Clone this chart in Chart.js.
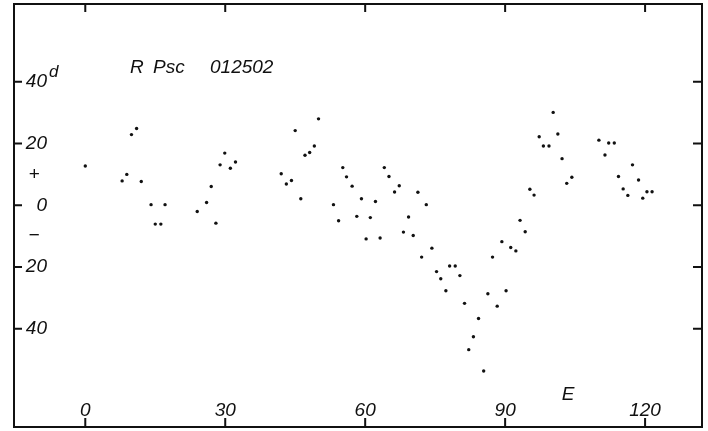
<!DOCTYPE html>
<html>
<head>
<meta charset="utf-8">
<script src="https://cdn.jsdelivr.net/npm/chart.js@4"></script>
<style>
  html, body { margin: 0; padding: 0; background: #fff; }
  #wrap { width: 708px; height: 431px; }
</style>
</head>
<body>
<div id="wrap"><canvas id="oc-chart" width="708" height="431"></canvas></div>
<script>
// O-C diagram of R Psc: epoch E and O-C in days
const epochs = [
  0, 7.9, 8.9, 9.9, 11.0, 12.0, 14.1, 15.0, 16.2, 17.1,
  24.0, 26.0, 27.0, 28.0, 28.9, 29.9, 31.1, 32.2,
  42.0, 43.1, 44.2, 45.0, 46.2, 47.1, 48.1, 49.1, 50.0,
  53.2, 54.3, 55.2, 56.0, 57.2, 58.2, 59.2, 60.2, 61.1, 62.2, 63.2,
  64.1, 65.1, 66.3, 67.3, 68.2, 69.3, 70.3, 71.3, 72.1, 73.1,
  74.3, 75.3, 76.2, 77.3, 78.1, 79.3, 80.3, 81.3, 82.2, 83.2,
  84.3, 85.4, 86.3, 87.3, 88.3, 89.3, 90.2, 91.2, 92.3, 93.2,
  94.3, 95.3, 96.2, 97.3, 98.2, 99.4, 100.3, 101.3, 102.2, 103.2, 104.3,
  110.1, 111.4, 112.2, 113.4, 114.3, 115.3, 116.3, 117.3, 118.6, 119.5, 120.4, 121.5
];
const ocDays = [
  12.7, 7.9, 10.0, 22.9, 24.9, 7.7, 0.2, -6.1, -6.1, 0.2,
  -2.0, 0.9, 6.1, -5.8, 13.1, 16.9, 12.0, 14.0,
  10.2, 6.9, 8.0, 24.2, 2.1, 16.2, 17.1, 19.2, 28.0,
  0.2, -5.0, 12.2, 9.2, 6.2, -3.6, 2.1, -10.9, -4.0, 1.2, -10.6,
  12.2, 9.3, 4.3, 6.3, -8.7, -3.8, -9.8, 4.2, -16.8, 0.2,
  -13.9, -21.5, -23.8, -27.7, -19.7, -19.7, -22.8, -31.8, -46.8, -42.6,
  -36.7, -53.7, -28.7, -16.8, -32.7, -11.8, -27.7, -13.7, -14.8, -4.9,
  -8.6, 5.2, 3.3, 22.2, 19.2, 19.2, 30.1, 23.1, 15.1, 7.1, 9.1,
  21.1, 16.3, 20.2, 20.2, 9.3, 5.3, 3.2, 13.1, 8.2, 2.3, 4.4, 4.4
];

const xTicks = [0, 30, 60, 90, 120];
const yTicks = [40, 20, 0, -20, -40];
const yTickLabels = ['40', '20', '0', '20', '40'];
const signValues = [10, -10];
const signLabels = ['+', '\u2212'];

const ink = '#111';
const labelFont = 'italic 19px "Liberation Sans", sans-serif';

// frame, inward ticks and the labels that sit inside the frame
const framePlugin = {
  id: 'frame',
  afterDraw(chart) {
    const { ctx, chartArea: a, scales } = chart;
    const xs = scales.x, ys = scales.y;
    ctx.save();
    ctx.strokeStyle = ink;
    ctx.fillStyle = ink;
    ctx.lineWidth = 2;
    ctx.strokeRect(a.left, a.top, a.right - a.left, a.bottom - a.top);

    ctx.beginPath();
    xTicks.forEach(v => {
      const px = xs.getPixelForValue(v);
      ctx.moveTo(px, a.top); ctx.lineTo(px, a.top + 8);
      ctx.moveTo(px, a.bottom); ctx.lineTo(px, a.bottom - 9);
    });
    yTicks.forEach(v => {
      const py = ys.getPixelForValue(v);
      ctx.moveTo(a.left, py); ctx.lineTo(a.left + 8, py);
      ctx.moveTo(a.right, py); ctx.lineTo(a.right - 9, py);
    });
    ctx.stroke();

    ctx.font = labelFont;
    ctx.textBaseline = 'middle';
    ctx.textAlign = 'right';
    yTicks.forEach((v, i) => {
      ctx.fillText(yTickLabels[i], a.left + 33, ys.getPixelForValue(v));
    });
    ctx.textAlign = 'center';
    signValues.forEach((v, i) => {
      ctx.fillText(signLabels[i], a.left + 20, ys.getPixelForValue(v));
    });

    // superscript d on the top label
    ctx.textAlign = 'left';
    ctx.textBaseline = 'alphabetic';
    ctx.font = 'italic 17px "Liberation Sans", sans-serif';
    ctx.fillText('d', a.left + 35, ys.getPixelForValue(40) - 5);

    ctx.font = labelFont;
    ctx.textAlign = 'center';
    xTicks.forEach(v => {
      ctx.fillText(String(v), xs.getPixelForValue(v), a.bottom - 11);
    });
    ctx.fillText('E', xs.getPixelForValue(103.5), a.bottom - 27);

    ctx.textAlign = 'left';
    ctx.fillText('R', 130, 73);
    ctx.fillText('Psc', 153, 73);
    ctx.fillText('012502', 210, 73);
    ctx.restore();
  }
};

document.addEventListener('DOMContentLoaded', () => {
  const canvas = document.getElementById('oc-chart').getContext('2d');
  const points = epochs.map((e, i) => ({ x: e, y: ocDays[i] }));

  new Chart(canvas, {
    type: 'scatter',
    data: {
      datasets: [{
        data: points,
        backgroundColor: ink,
        borderWidth: 0,
        pointRadius: 1.7
      }]
    },
    options: {
      responsive: false,
      animation: false,
      layout: { padding: { left: 14, top: 4, right: 6, bottom: 2 } },
      plugins: { legend: { display: false }, tooltip: { enabled: false } },
      scales: {
        x: { type: 'linear', min: -15.28, max: 132.2, display: false },
        y: { type: 'linear', min: -71.87, max: 65.23, display: false }
      }
    },
    plugins: [framePlugin]
  });
});
</script>
</body>
</html>
